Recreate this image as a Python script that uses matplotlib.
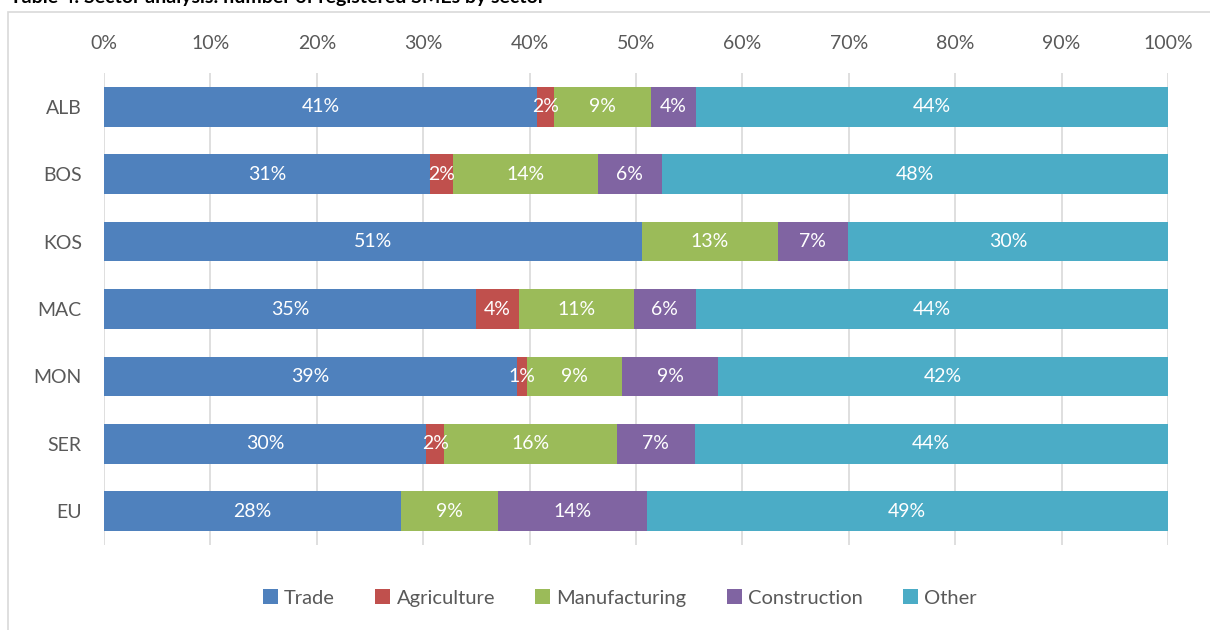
import numpy as np
import matplotlib.pyplot as plt
from matplotlib.patches import Rectangle

plt.rcParams['font.family'] = ['Lato', 'DejaVu Sans']

countries = ["ALB", "BOS", "KOS", "MAC", "MON", "SER", "EU"]
sectors = ["Trade", "Agriculture", "Manufacturing", "Construction", "Other"]
colors = ["#4F81BD", "#C0504D", "#9BBB59", "#8064A2", "#4BACC6"]

trade = [40.7, 30.6, 50.6, 35.0, 38.8, 30.3, 27.9]
agriculture = [1.6, 2.2, 0.0, 4.0, 1.0, 1.7, 0.0]
manufacturing = [9.1, 13.6, 12.7, 10.8, 8.9, 16.2, 9.1]
construction = [4.2, 6.0, 6.6, 5.8, 9.0, 7.3, 14.0]
other = [44.4, 47.6, 30.1, 44.4, 42.3, 44.5, 49.0]

series = [trade, agriculture, manufacturing, construction, other]

fig = plt.figure(figsize=(12.1, 6.3), dpi=100)
fig.patches.append(Rectangle((8 / 1210, -0.1), 1.2, 1 - 12 / 630 + 0.1,
                             transform=fig.transFigure, fill=False,
                             edgecolor="#D9D9D9", linewidth=1.2))
fig.text(10 / 1210, 1 - 3 / 630, "Table 4: Sector analysis: number of registered SMEs by sector",
         fontsize=14, fontweight="bold", color="black", va="baseline")

ax = fig.add_axes([104 / 1210, 85 / 630, 1064 / 1210, 472 / 630])

y = np.arange(len(countries))
left = np.zeros(len(countries))
for name, vals, col in zip(sectors, series, colors):
    vals = np.array(vals)
    ax.barh(y, vals, left=left, height=0.59, color=col, label=name, zorder=3)
    for yi, l, v in zip(y, left, vals):
        if v > 0:
            ax.text(l + v / 2, yi, f"{round(v):.0f}%", ha="center", va="center",
                    color="white", fontsize=14, zorder=4)
    left += vals

ax.set_xlim(0, 100)
ax.set_ylim(len(countries) - 0.5, -0.5)
ax.set_yticks(y)
ax.set_yticklabels(countries)
ax.set_xticks(np.arange(0, 101, 10))
ax.set_xticklabels([f"{t}%" for t in range(0, 101, 10)])
ax.xaxis.tick_top()
ax.tick_params(axis="both", length=0, labelsize=14, labelcolor="#595959")
ax.tick_params(axis="x", pad=15)
ax.tick_params(axis="y", pad=16)
ax.grid(axis="x", color="#D9D9D9", linewidth=1.2, zorder=0)
for s in ax.spines.values():
    s.set_visible(False)

ax.legend(loc="center", bbox_to_anchor=((620 - 104) / 1064, -(598 - 545) / 472),
          ncol=5, frameon=False, fontsize=14.5, handlelength=0.75, handleheight=0.75,
          handletextpad=0.3, columnspacing=2.0, labelcolor="#595959")

fig.savefig("out.png", dpi=100)
